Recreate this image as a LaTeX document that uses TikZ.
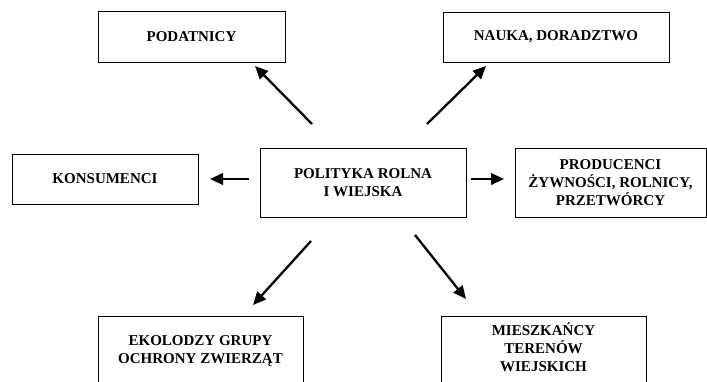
\documentclass[tikz,border=0pt]{standalone}
\usepackage{fontspec}
\setmainfont{Liberation Serif}
\usetikzlibrary{arrows.meta}
\begin{document}
\begin{tikzpicture}[x=1pt,y=-1pt,
  box/.style={draw, line width=0.9pt, inner sep=0pt},
  lbl/.style={font=\bfseries\fontsize{15}{18}\selectfont, align=center, inner sep=0pt},
  arr/.style={line width=2.3pt, -{Triangle[length=13pt,width=11.5pt]}}]
\useasboundingbox (0,0) rectangle (707,381);
\clip (0,0) rectangle (707,381);
% boxes with text
\node[box, lbl, minimum width=187pt, minimum height=51pt] (pod) at (191.5,36.5) {PODATNICY};
\node[box, lbl, minimum width=226pt, minimum height=50pt] (nau) at (556,37) {NAUKA, DORADZTWO};
\node[box, lbl, minimum width=186pt, minimum height=50pt] (kon) at (105,179) {KONSUMENCI};
\node[box, lbl, minimum width=206pt, minimum height=69pt] (pol) at (363,182.5) {POLITYKA ROLNA\\I WIEJSKA};
\node[box, lbl, minimum width=191pt, minimum height=69pt] (pro) at (610.5,182.5) {PRODUCENCI\\ŻYWNOŚCI, ROLNICY,\\PRZETWÓRCY};
% bottom boxes (cut by the page edge)
\node[box, minimum width=205pt, minimum height=100pt] (ekob) at (200.5,366) {};
\node[box, minimum width=205pt, minimum height=100pt] (mieb) at (543.5,366) {};
\node[lbl, anchor=north] (eko) at (200.5,335) {EKOLODZY GRUPY\\OCHRONY ZWIERZĄT};
\node[lbl, anchor=north] (mie) at (543.5,322) {MIESZKAŃCY\\TERENÓW\\WIEJSKICH};
% arrow end points
\coordinate (a1s) at (312,124); \coordinate (a1e) at (255,66);
\coordinate (a2s) at (427,124); \coordinate (a2e) at (486,66);
\coordinate (a3s) at (249,179); \coordinate (a3e) at (210,179);
\coordinate (a4s) at (471,179); \coordinate (a4e) at (504,179);
\coordinate (a5s) at (311,241); \coordinate (a5e) at (253,305);
\coordinate (a6s) at (415,235); \coordinate (a6e) at (466,299);
\draw[arr] (a1s) -- (a1e);
\draw[arr] (a2s) -- (a2e);
\draw[arr] (a3s) -- (a3e);
\draw[arr] (a4s) -- (a4e);
\draw[arr] (a5s) -- (a5e);
\draw[arr] (a6s) -- (a6e);
\end{tikzpicture}
\end{document}
